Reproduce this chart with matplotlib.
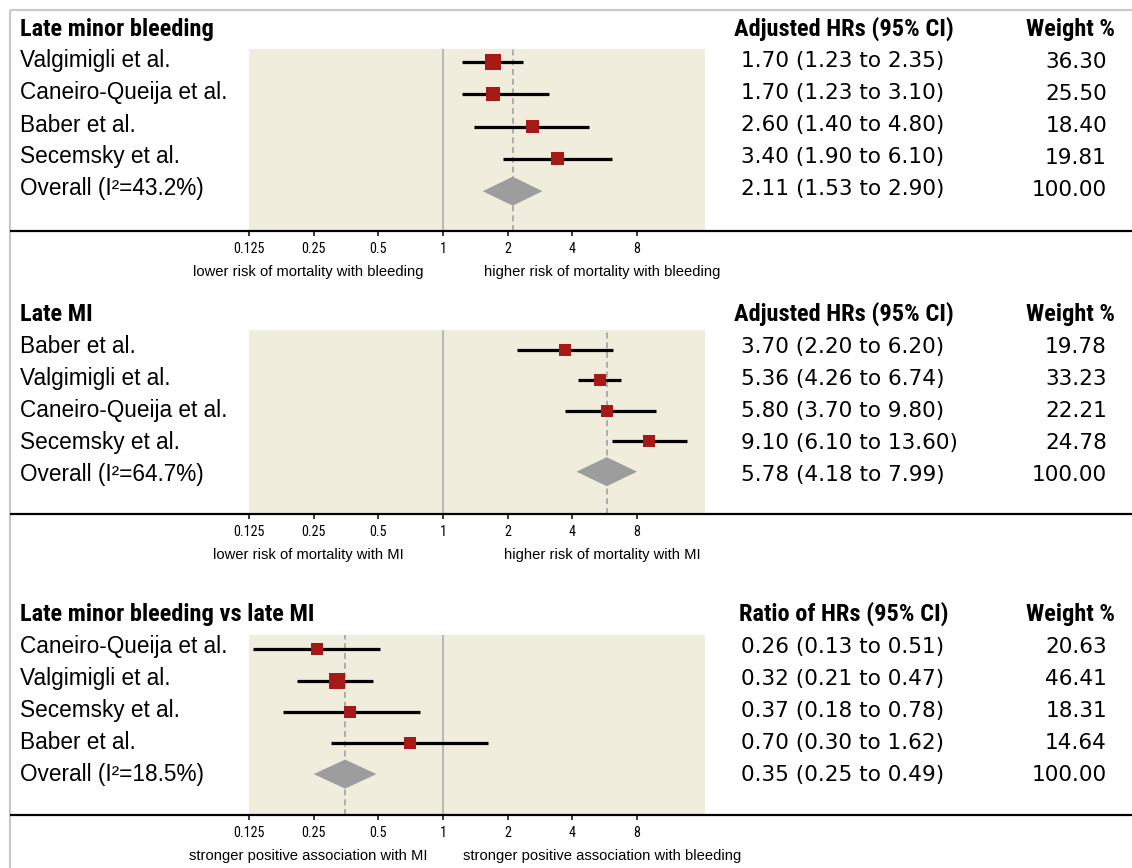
import matplotlib
matplotlib.use("Agg")
import matplotlib.pyplot as plt
from matplotlib import font_manager
from matplotlib.patches import Polygon

# ---------------------------------------------------------------- data
titles = ["Late minor bleeding", "Late MI", "Late minor bleeding vs late MI"]
est_headers = ["Adjusted HRs (95% CI)", "Adjusted HRs (95% CI)", "Ratio of HRs (95% CI)"]
weight_header = "Weight %"

studies_bleed = ["Valgimigli et al.", "Caneiro-Queija et al.", "Baber et al.", "Secemsky et al."]
hr_bleed = [1.70, 1.70, 2.60, 3.40]
lo_bleed = [1.23, 1.23, 1.40, 1.90]
hi_bleed = [2.35, 3.10, 4.80, 6.10]
wt_bleed = [36.30, 25.50, 18.40, 19.81]
overall_bleed = (2.11, 1.53, 2.90)
i2_bleed = 43.2

studies_mi = ["Baber et al.", "Valgimigli et al.", "Caneiro-Queija et al.", "Secemsky et al."]
hr_mi = [3.70, 5.36, 5.80, 9.10]
lo_mi = [2.20, 4.26, 3.70, 6.10]
hi_mi = [6.20, 6.74, 9.80, 13.60]
wt_mi = [19.78, 33.23, 22.21, 24.78]
overall_mi = (5.78, 4.18, 7.99)
i2_mi = 64.7

studies_ratio = ["Caneiro-Queija et al.", "Valgimigli et al.", "Secemsky et al.", "Baber et al."]
hr_ratio = [0.26, 0.32, 0.37, 0.70]
lo_ratio = [0.13, 0.21, 0.18, 0.30]
hi_ratio = [0.51, 0.47, 0.78, 1.62]
wt_ratio = [20.63, 46.41, 18.31, 14.64]
overall_ratio = (0.35, 0.25, 0.49)
i2_ratio = 18.5

tick_values = [0.125, 0.25, 0.5, 1, 2, 4, 8]
tick_labels = ["0.125", "0.25", "0.5", "1", "2", "4", "8"]
direction_labels = [
    ("lower risk of mortality with bleeding", "higher risk of mortality with bleeding"),
    ("lower risk of mortality with MI", "higher risk of mortality with MI"),
    ("stronger positive association with MI", "stronger positive association with bleeding"),
]

# ---------------------------------------------------------------- style
W, H, DPI = 1132, 868, 100
SHADE = "#f1eddc"
BOX = "#a51916"
DIAMOND = "#9d9d9d"
FRAME = "#c9c9c9"

SANS = ["Liberation Sans", "DejaVu Sans"]
NUM = ["DejaVu Sans"]
_installed = {f.name for f in font_manager.fontManager.ttflist}
if "Roboto Condensed" in _installed:
    BOLD, BOLD_SIZE = ["Roboto Condensed", "DejaVu Sans"], 17.6
    TICKF, TICK_SIZE = ["Roboto Condensed", "DejaVu Sans"], 10.2
else:
    BOLD, BOLD_SIZE = SANS, 15.0
    TICKF, TICK_SIZE = SANS, 9.6

# layout of each panel in pixels (figure coordinates, y downward)
panels = [
    dict(studies=studies_bleed, hr=hr_bleed, lo=lo_bleed, hi=hi_bleed, wt=wt_bleed,
         overall=overall_bleed, i2=i2_bleed,
         title_y=36, text_y0=67.5, shade_top=49, axis_y=231,
         mark_y0=62.0, mark_dy=32.3, box_px=[16, 14, 13, 13]),
    dict(studies=studies_mi, hr=hr_mi, lo=lo_mi, hi=hi_mi, wt=wt_mi,
         overall=overall_mi, i2=i2_mi,
         title_y=321, text_y0=353, shade_top=330, axis_y=514,
         mark_y0=349.7, mark_dy=30.5, box_px=[12, 12, 12, 12]),
    dict(studies=studies_ratio, hr=hr_ratio, lo=lo_ratio, hi=hi_ratio, wt=wt_ratio,
         overall=overall_ratio, i2=i2_ratio,
         title_y=621, text_y0=653, shade_top=635, axis_y=815,
         mark_y0=649.3, mark_dy=31.2, box_px=[12, 16, 12, 12]),
]
ROW_DY = 32
PLOT_X0, PLOT_X1 = 249, 705
X_MAX = 2 ** 4.05
PT = 72.0 / DPI  # points per pixel

fig = plt.figure(figsize=(W / DPI, H / DPI), dpi=DPI)

# overlay axes in pixel units for text, rules and the frame
base = fig.add_axes([0, 0, 1, 1])
base.set_xlim(0, W)
base.set_ylim(H, 0)
base.axis("off")
base.set_zorder(5)
base.patch.set_visible(False)

base.plot([9.5, W], [9.5, 9.5], color=FRAME, lw=1.6, solid_capstyle="butt")
base.plot([9.5, 9.5], [9.5, H], color=FRAME, lw=1.6, solid_capstyle="butt")

for k, p in enumerate(panels):
    # forest axes covering the shaded band; y data are pixel rows
    top, bot = p["shade_top"], p["axis_y"]
    ax = fig.add_axes([PLOT_X0 / W, 1 - bot / H, (PLOT_X1 - PLOT_X0) / W, (bot - top) / H])
    ax.set_facecolor(SHADE)
    ax.set_xscale("log", base=2)
    ax.set_xlim(0.125, X_MAX)
    ax.set_ylim(bot, top)
    for s in ax.spines.values():
        s.set_visible(False)
    ax.set_yticks([])
    ax.set_xticks(tick_values)
    ax.set_xticklabels(tick_labels, family=TICKF, fontsize=TICK_SIZE)
    ax.xaxis.set_minor_locator(matplotlib.ticker.NullLocator())
    ax.tick_params(axis="x", direction="out", length=5 * PT, width=1.5 * PT,
                   color="black", pad=4.5)

    est, olo, ohi = p["overall"]
    ax.axvline(1, color="#a8a8a8", lw=1.5 * PT, zorder=1)
    ax.axvline(est, color="#9a9a9a", lw=1.5 * PT, ls=(0, (4, 2.5)), zorder=1)

    ys = [p["mark_y0"] + i * p["mark_dy"] for i in range(len(p["hr"]))]
    ax.hlines(ys, p["lo"], p["hi"], color="black", lw=3.2 * PT, zorder=2)
    for y, h, b in zip(ys, p["hr"], p["box_px"]):
        ax.scatter([h], [y], marker="s", s=(b * PT) ** 2, color=BOX,
                   edgecolors="none", zorder=3)

    yd = p["mark_y0"] + len(p["hr"]) * p["mark_dy"]
    half = 14.5
    ax.add_patch(Polygon([(olo, yd), (est, yd - half), (ohi, yd), (est, yd + half)],
                         closed=True, facecolor=DIAMOND, edgecolor="none", zorder=3))

    # black rule along the axis
    base.plot([10, W], [bot, bot], color="black", lw=2.2 * PT, solid_capstyle="butt")

    # headings
    base.text(20, p["title_y"], titles[k], family=BOLD, weight="bold", fontsize=BOLD_SIZE,
              va="baseline", ha="left")
    base.text(844, p["title_y"], est_headers[k], family=BOLD, weight="bold",
              fontsize=BOLD_SIZE, va="baseline", ha="center")
    base.text(1115, p["title_y"], weight_header, family=BOLD, weight="bold",
              fontsize=BOLD_SIZE, va="baseline", ha="right")

    names = p["studies"] + ["Overall (I\u00b2=%.1f%%)" % p["i2"]]
    vals = ["%.2f (%.2f to %.2f)" % t for t in zip(p["hr"], p["lo"], p["hi"])]
    vals.append("%.2f (%.2f to %.2f)" % p["overall"])
    wts = ["%.2f" % w for w in p["wt"]] + ["%.2f" % 100]
    for i, (nm, v, w) in enumerate(zip(names, vals, wts)):
        y = p["text_y0"] + i * ROW_DY
        base.text(20, y, nm, family=SANS, fontsize=16.3, va="baseline", ha="left")
        base.text(741, y, v, family=NUM, fontsize=15.6, va="baseline", ha="left")
        base.text(1107, y, w, family=NUM, fontsize=15.6, va="baseline", ha="right")

    left_lab, right_lab = direction_labels[k]
    base.text(308, bot + 45, left_lab, family=SANS, fontsize=10.6, va="baseline", ha="center")
    base.text(602, bot + 45, right_lab, family=SANS, fontsize=10.6, va="baseline", ha="center")

fig.savefig("out.png", dpi=DPI)
